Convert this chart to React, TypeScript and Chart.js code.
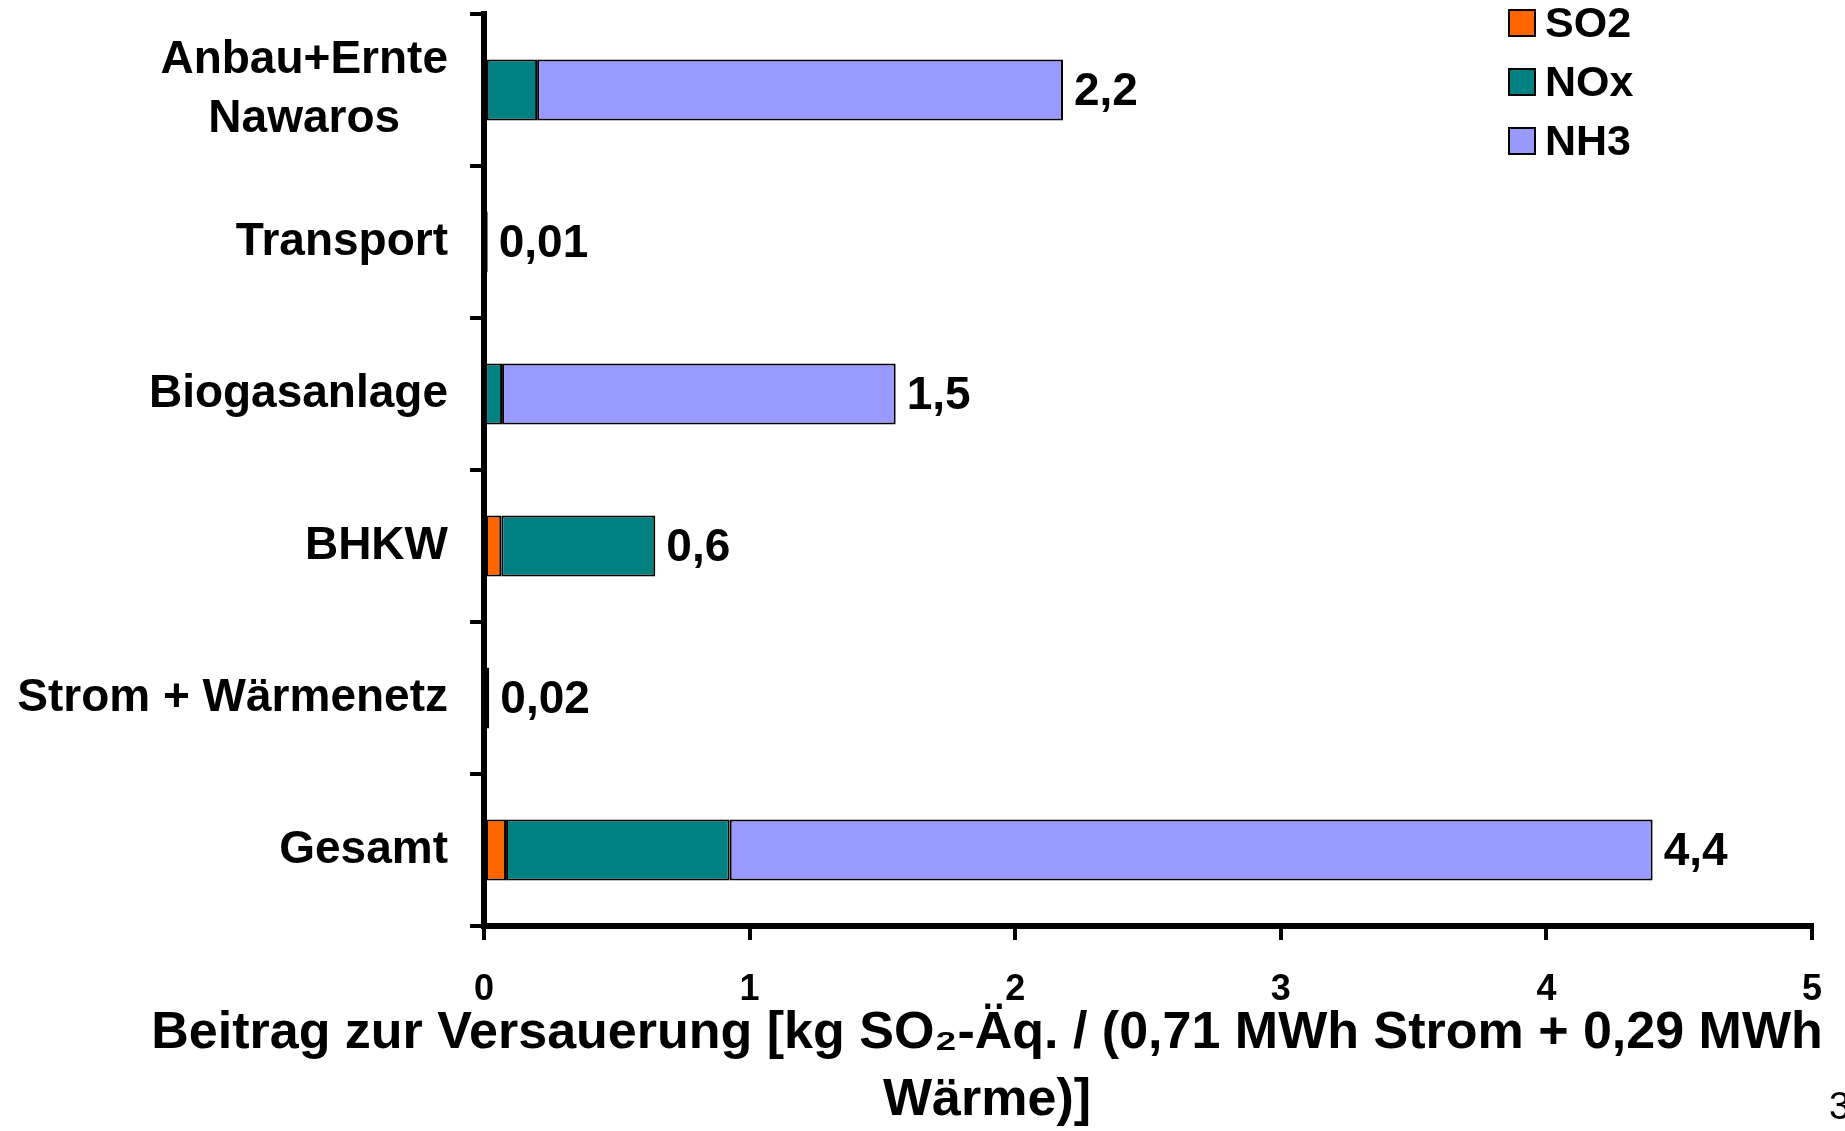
import React, { useEffect, useRef } from "react";
import { Chart, registerables } from "chart.js";

Chart.register(...registerables);

const categories: (string | string[])[] = [
  ["Anbau+Ernte", "Nawaros"],
  "Transport",
  "Biogasanlage",
  "BHKW",
  "Strom + Wärmenetz",
  "Gesamt",
];
const so2Values = [0.01, 0.003, 0.004, 0.065, 0.008, 0.083];
const noxValues = [0.19, 0.011, 0.064, 0.58, 0.012, 0.842];
const nh3Values = [1.98, 0, 1.482, 0, 0, 3.475];
const totalLabels = ["2,2", "0,01", "1,5", "0,6", "0,02", "4,4"];
const seriesNames = ["SO2", "NOx", "NH3"];
const seriesColors = ["#FF6600", "#008080", "#9999FF"];
const xTicks = [0, 1, 2, 3, 4, 5];
const xTitleLines = [
  "Beitrag zur Versauerung [kg SO₂-Äq. / (0,71 MWh Strom + 0,29 MWh",
  "Wärme)]",
];
const pageNumber = "3";

const FONT = '"Liberation Sans", Arial, Helvetica, sans-serif';

const overlayPlugin = {
  id: "overlay",
  afterDraw(chart: any) {
    const ctx = chart.ctx as CanvasRenderingContext2D;
    const xs = chart.scales.x;
    const ys = chart.scales.y;
    ctx.save();
    ctx.fillStyle = "#000";

    // category labels
    ctx.font = `bold 46px ${FONT}`;
    ctx.textBaseline = "middle";
    const rightEdge = 448;
    categories.forEach((lab, i) => {
      const cy = ys.getPixelForValue(i);
      if (Array.isArray(lab)) {
        const maxW = Math.max(...lab.map((l) => ctx.measureText(l).width));
        const lh = 59;
        ctx.textAlign = "center";
        lab.forEach((l, j) => {
          ctx.fillText(l, rightEdge - maxW / 2, cy + (j - (lab.length - 1) / 2) * lh);
        });
      } else {
        ctx.textAlign = "right";
        ctx.fillText(lab, rightEdge, cy);
      }
    });

    // value labels at bar ends
    ctx.font = `bold 46px ${FONT}`;
    ctx.textAlign = "left";
    categories.forEach((_, i) => {
      const total = so2Values[i] + noxValues[i] + nh3Values[i];
      const px = xs.getPixelForValue(total) + 11;
      ctx.fillText(totalLabels[i], px, ys.getPixelForValue(i) + 2);
    });

    // legend
    const legY = [23, 82, 141];
    seriesNames.forEach((name, i) => {
      ctx.fillStyle = seriesColors[i];
      ctx.fillRect(1509, legY[i] - 13, 26, 26);
      ctx.strokeStyle = "#000";
      ctx.lineWidth = 2;
      ctx.strokeRect(1509, legY[i] - 13, 26, 26);
      ctx.fillStyle = "#000";
      ctx.font = `bold 43px ${FONT}`;
      ctx.textAlign = "left";
      ctx.textBaseline = "middle";
      ctx.fillText(name, 1545, legY[i] + 2);
    });

    // x axis title
    ctx.font = `bold 52px ${FONT}`;
    ctx.textAlign = "center";
    ctx.textBaseline = "middle";
    ctx.fillText(xTitleLines[0], 987, 1034);
    ctx.fillText(xTitleLines[1], 987, 1101);

    // page number
    ctx.font = `38px ${FONT}`;
    ctx.textAlign = "left";
    ctx.textBaseline = "alphabetic";
    ctx.fillText(pageNumber, 1829, 1119);
    ctx.restore();
  },
};

export default function App() {
  const ref = useRef<HTMLCanvasElement | null>(null);
  useEffect(() => {
    document.body.style.margin = "0";
    document.body.style.overflow = "hidden";
    const canvas = ref.current!;
    const datasets = [so2Values, noxValues, nh3Values].map((vals, i) => ({
      label: seriesNames[i],
      data: vals,
      backgroundColor: seriesColors[i],
      borderColor: "#000",
      borderWidth: 2,
      borderSkipped: false as any,
      barPercentage: 0.4,
      categoryPercentage: 1,
    }));
    const chart = new Chart(canvas, {
      type: "bar",
      data: { labels: categories as any, datasets },
      options: {
        indexAxis: "y",
        animation: false,
        responsive: false,
        devicePixelRatio: 1,
        layout: { padding: { left: 0, top: 14, right: 33, bottom: 0 } },
        plugins: { legend: { display: false }, tooltip: { enabled: false } },
        scales: {
          x: {
            stacked: true,
            min: 0,
            max: 5,
            afterBuildTicks: (scale: any) => {
              scale.ticks = xTicks.map((v) => ({ value: v }));
            },
            afterFit: (scale: any) => {
              scale.height = 205;
              scale.paddingLeft = 0;
              scale.paddingRight = 0;
            },
            ticks: {
              color: "#000",
              font: { family: FONT, size: 36, weight: "bold" },
              padding: 28,
              maxRotation: 0,
            },
            grid: {
              drawOnChartArea: false,
              drawTicks: true,
              tickLength: 14,
              color: "#000",
              lineWidth: 4,
            },
            border: { display: true, color: "#000", width: 6 },
          },
          y: {
            stacked: true,
            afterFit: (scale: any) => {
              scale.width = 484;
              scale.paddingTop = 0;
              scale.paddingBottom = 0;
            },
            ticks: { display: false },
            grid: {
              offset: true,
              drawOnChartArea: false,
              drawTicks: true,
              tickLength: 14,
              color: "#000",
              lineWidth: 4,
            },
            border: { display: true, color: "#000", width: 6 },
          },
        },
      },
      plugins: [overlayPlugin],
    });
    return () => chart.destroy();
  }, []);
  return (
    <div style={{ width: 1845, height: 1131, background: "#fff" }}>
      <canvas ref={ref} width={1845} height={1131} style={{ display: "block" }} />
    </div>
  );
}
